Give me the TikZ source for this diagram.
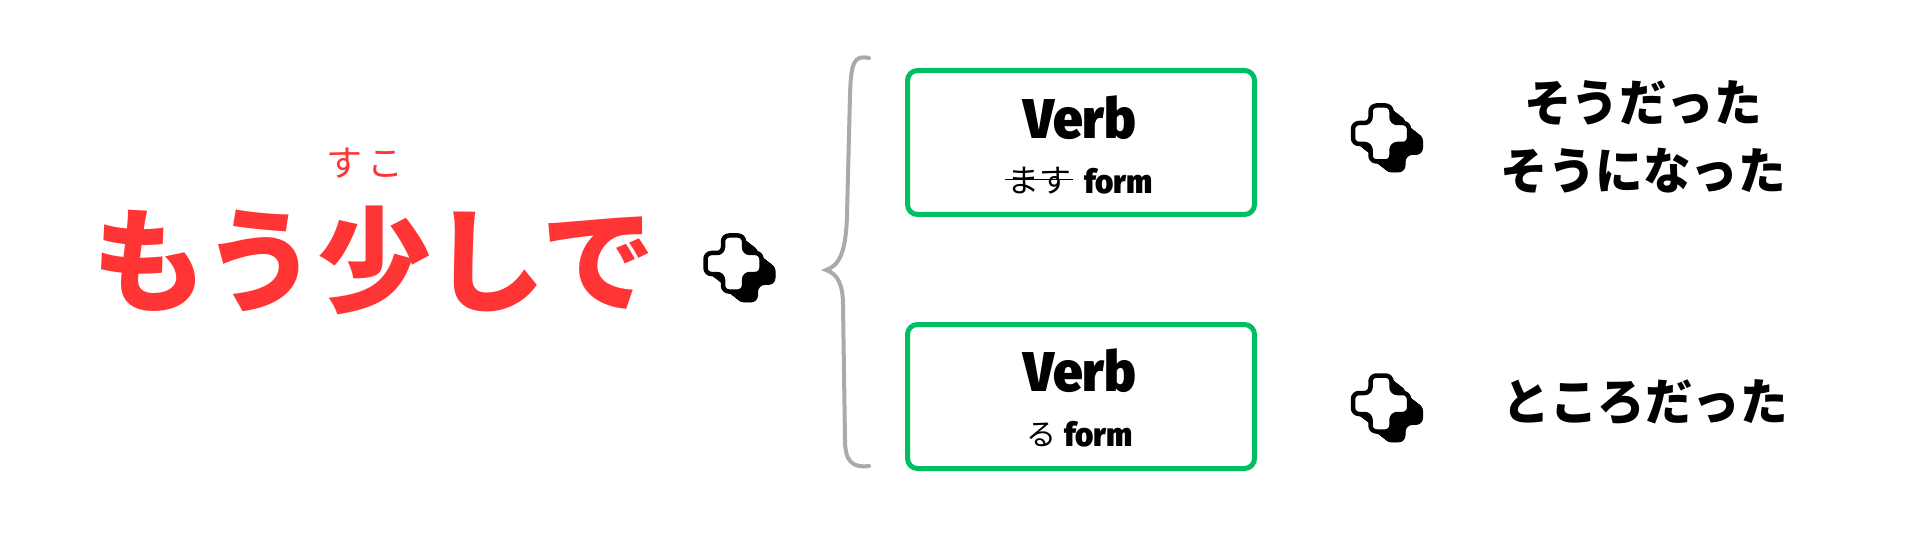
\documentclass[tikz,border=0pt]{standalone}
\usepackage{fontspec}
\usepackage{graphicx}
\newfontfamily\jp{Noto Sans CJK JP}
\newfontfamily\vf[UprightFont={* Black}]{Fira Sans}
\definecolor{redj}{HTML}{FF3535}
\definecolor{greenb}{HTML}{00BF63}
\definecolor{grayb}{HTML}{AAAAAA}
\newcommand\plusshape[1]{\path[#1] (-10.5,-28) -- (10.5,-28) -- (10.5,-10.5) -- (28,-10.5) -- (28,10.5) -- (10.5,10.5) -- (10.5,28) -- (-10.5,28) -- (-10.5,10.5) -- (-28,10.5) -- (-28,-10.5) -- (-10.5,-10.5) -- cycle;}
\tikzset{
  plusicon/.pic={
    \foreach \i in {0,0.5,...,14}{\plusshape{fill=black,rounded corners=7pt,shift={(\i,0.78*\i)}}}
    \plusshape{fill=white,draw=black,line width=4.5pt,rounded corners=6pt}
  },
  vbox/.style={draw=greenb,line width=5pt,rounded corners=10pt,minimum width=347pt,minimum height=144pt,inner sep=0pt},
  verbtxt/.style={inner sep=0pt,font=\vf\fontsize{56}{60}\selectfont},
  formtxt/.style={inner sep=0pt,font=\vf\fontsize{33}{36}\selectfont},
  kanatxt/.style={inner sep=0pt,font=\jp\fontsize{32}{34}\selectfont},
  endtxt/.style={inner sep=0pt,align=center,font=\jp\bfseries\fontsize{50}{68}\selectfont},
}
\begin{document}
\begin{tikzpicture}[x=1pt,y=-1pt]
\useasboundingbox[fill=white] (0,0) rectangle (1920,540);
% main phrase
\node[inner sep=0pt,text=redj,font=\jp\bfseries\fontsize{114}{118}\selectfont] (main) at (374,260) {もう少しで};
\node[inner sep=0pt,text=redj,font=\jp\fontsize{36}{38}\selectfont] (furi) at (365,163) {す\hspace{6pt}こ};
% plus icons
\pic (p1) at (733.5,263.5) {plusicon};
\pic (p2) at (1381,133.5) {plusicon};
\pic (p3) at (1381,403.5) {plusicon};
% brace
\draw[grayb,line width=4pt,line cap=round] (869,58) .. controls (854,55) and (851,62) .. (850,95) -- (847,215) .. controls (846,255) and (838,266) .. (826,270) .. controls (838,274) and (843,285) .. (843,305) -- (845,440) .. controls (845,462) and (853,468) .. (869,466);
% boxes
\node[vbox] (box1) at (1081,142.5) {};
\node[vbox] (box2) at (1081,396.5) {};
\node[verbtxt] (verb1) at (1080,118) {\scalebox{0.95}[1]{Verb}};
\node[verbtxt] (verb2) at (1080,371) {\scalebox{0.95}[1]{Verb}};
\node[kanatxt,anchor=west] (masu) at (1007,181) {ます};
\draw[black,line width=1.8pt] ([xshift=-2pt,yshift=1.5pt]masu.west) -- ([xshift=2pt,yshift=1.5pt]masu.east);
\node[formtxt,anchor=base west] (form1) at (1084,194) {\scalebox{0.95}[1]{form}};
\node[kanatxt,anchor=west,font=\jp\fontsize{30}{32}\selectfont] (ru) at (1026,435) {る};
\node[formtxt,anchor=base west] (form2) at (1064,446) {\scalebox{0.95}[1]{form}};
% endings
\node[endtxt] (end1) at (1643,137) {\scalebox{0.95}[1]{そうだった}\\\scalebox{0.95}[1]{そうになった}};
\node[endtxt] (end2) at (1645,402) {\scalebox{0.95}[1]{ところだった}};
\end{tikzpicture}
\end{document}
